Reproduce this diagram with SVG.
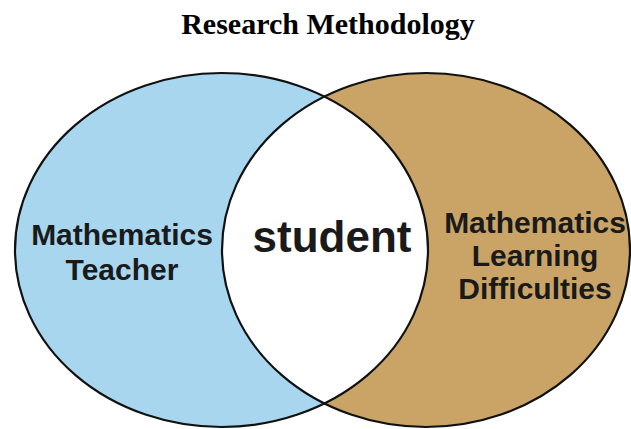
<svg xmlns="http://www.w3.org/2000/svg" width="631" height="429" viewBox="0 0 631 429">
  <style>
    .title { font-family: "Liberation Serif", "Times New Roman", serif; font-weight: bold; font-size: 30px; fill: #000; }
    .label { font-family: "Liberation Sans", Arial, sans-serif; font-weight: bold; font-size: 30px; fill: #1a1a1a; text-anchor: middle; }
    .big { font-size: 44px; }
    .ring { stroke: #111; stroke-width: 2.2; }
  </style>
  <defs>
    <clipPath id="clipLeft">
      <ellipse cx="221.5" cy="250" rx="206.5" ry="177"/>
    </clipPath>
  </defs>

  <rect width="631" height="429" fill="#fff"/>

  <text class="title" x="328" y="34" text-anchor="middle">Research Methodology</text>

  <!-- set fills -->
  <g id="teacher">
    <ellipse cx="221.5" cy="250" rx="206.5" ry="177" fill="#a7d6ee"/>
  </g>
  <g id="difficulties">
    <ellipse cx="426" cy="250" rx="204" ry="177" fill="#c9a466"/>
  </g>
  <g id="student">
    <ellipse cx="426" cy="250" rx="204" ry="177" fill="#fff" clip-path="url(#clipLeft)"/>
  </g>

  <!-- outlines -->
  <g id="outlines" fill="none" class="ring">
    <ellipse cx="221.5" cy="250" rx="206.5" ry="177"/>
    <ellipse cx="426" cy="250" rx="204" ry="177"/>
  </g>

  <!-- labels -->
  <g id="labels">
    <text class="label" x="122" y="245">Mathematics</text>
    <text class="label" x="122" y="280">Teacher</text>
    <text class="label big" x="332" y="252">student</text>
    <text class="label" x="535" y="233">Mathematics</text>
    <text class="label" x="535" y="266">Learning</text>
    <text class="label" x="535" y="299">Difficulties</text>
  </g>
</svg>
